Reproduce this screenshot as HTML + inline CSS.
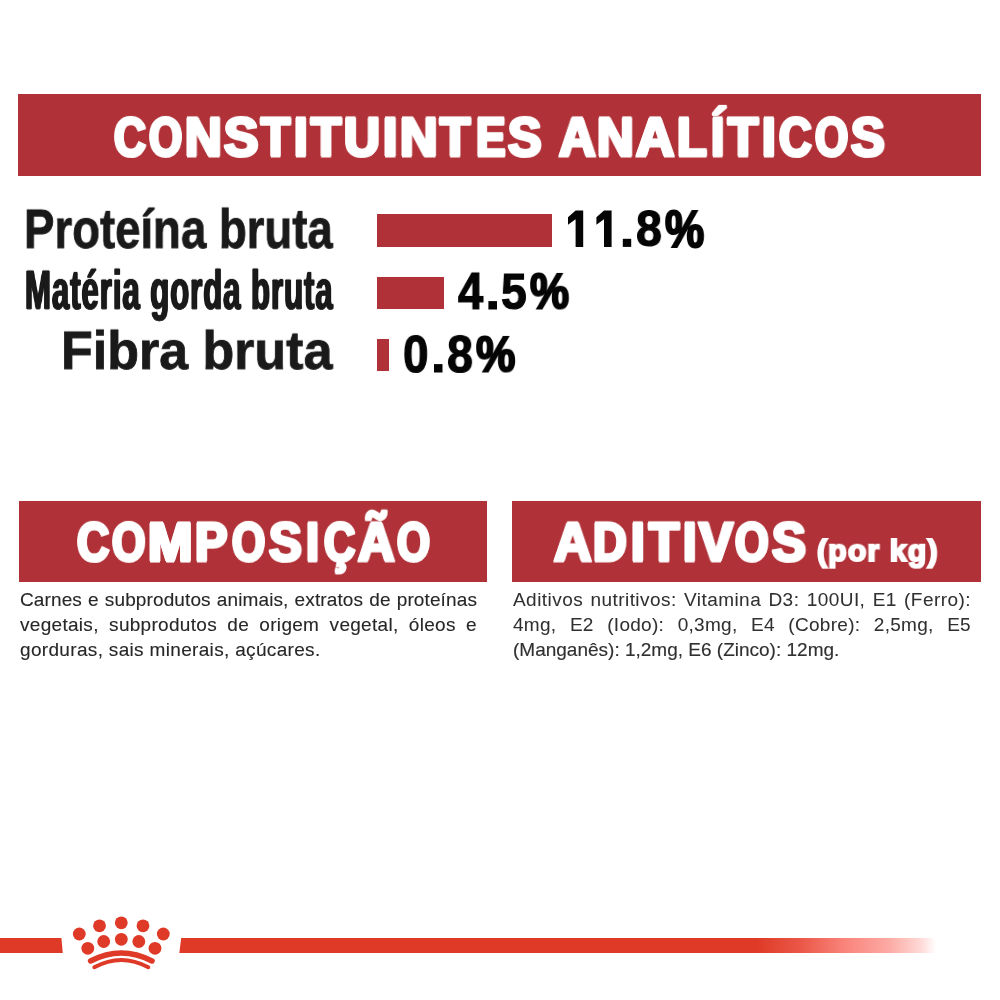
<!DOCTYPE html>
<html lang="pt">
<head>
<meta charset="utf-8">
<title>Constituintes Analíticos</title>
<style>
  html, body { margin: 0; padding: 0; background: #ffffff; }
  body { width: 1000px; height: 1000px; position: relative; overflow: hidden;
         font-family: "Liberation Sans", sans-serif; }
  .abs { position: absolute; }
  .banner { position: absolute; background: #b03238; }
  .bar { position: absolute; background: #b03238; }
  .t { position: absolute; white-space: nowrap; transform-origin: 0 0; line-height: 1; font-weight: bold; will-change: transform; }
  .g { color: #ffffff; -webkit-text-stroke: 3px; font-size: 53px; text-shadow: 1px 0 0 currentColor, -1px 0 0 currentColor, 2px 0 0 currentColor, -2px 0 0 currentColor; }
  .hs { color: #ffffff; -webkit-text-stroke: 2.2px; font-size: 31px; letter-spacing: 1.2px; }
  .lbl { color: #1a1a1a; -webkit-text-stroke: 0.8px; font-size: 52px; }
  .lblc { color: #1a1a1a; -webkit-text-stroke: 0.8px; font-size: 52px; letter-spacing: 1.5px;
          text-shadow: 0.7px 0 0 currentColor, -0.7px 0 0 currentColor, 1.3px 0 0 currentColor, -1.3px 0 0 currentColor; }
  .num { color: #050505; -webkit-text-stroke: 1.2px; font-size: 50px; }
  .pct { color: #050505; -webkit-text-stroke: 2.2px; font-size: 50px; }
  .pl { position: absolute; white-space: nowrap; font-size: 19px; line-height: 25px; height: 25px; color: #1f1f1f; overflow: visible; will-change: transform; -webkit-text-stroke: 0.12px; }
  .pj { text-align: justify; text-align-last: justify; white-space: normal; }
</style>
</head>
<body>

<!-- Top banner -->
<div class="banner" style="left:18px; top:94px; width:963.4px; height:81.5px;"></div>
<div role="heading" aria-label="CONSTITUINTES ANALÍTICOS">
<div class="t g" id="a0" style="left:113.65px; top:108.65px; transform:scale(0.832,1.035);">C</div>
<div class="t g" id="a1" style="left:148.51px; top:108.65px; transform:scale(0.8033,1.035);">O</div>
<div class="t g" id="a2" style="left:184.57px; top:108.65px; transform:scale(0.9558,1.035);">N</div>
<div class="t g" id="a3" style="left:223.57px; top:108.65px; transform:scale(0.9687,1.035);">S</div>
<div class="t g" id="a4" style="left:260.57px; top:108.65px; transform:scale(0.8971,1.035);">T</div>
<div class="t g" id="a5" style="left:293.55px; top:108.65px; transform:scale(0.9138,1.035);">I</div>
<div class="t g" id="a6" style="left:310.72px; top:108.65px; transform:scale(0.9291,1.035);">T</div>
<div class="t g" id="a7" style="left:343.53px; top:108.65px; transform:scale(0.9362,1.035);">U</div>
<div class="t g" id="a8" style="left:382.51px; top:108.65px; transform:scale(0.9671,1.035);">I</div>
<div class="t g" id="a9" style="left:399.63px; top:108.65px; transform:scale(0.9781,1.035);">N</div>
<div class="t g" id="a10" style="left:439.52px; top:108.65px; transform:scale(0.9291,1.035);">T</div>
<div class="t g" id="a11" style="left:475.68px; top:108.65px; transform:scale(0.8341,1.035);">E</div>
<div class="t g" id="a12" style="left:507.61px; top:108.65px; transform:scale(0.9467,1.035);">S</div>
<div class="t g" id="b0" style="left:558.64px; top:108.65px; transform:scale(0.956,1.035);">A</div>
<div class="t g" id="b1" style="left:596.67px; top:108.65px; transform:scale(0.9558,1.035);">N</div>
<div class="t g" id="b2" style="left:635.58px; top:108.65px; transform:scale(0.9967,1.035);">A</div>
<div class="t g" id="b3" style="left:676.56px; top:108.65px; transform:scale(0.917,1.035);">L</div>
<div class="t g" id="b4" style="left:710.63px; top:108.65px; transform:scale(0.8999,1.035);">Í</div>
<div class="t g" id="b5" style="left:727.72px; top:108.65px; transform:scale(0.9291,1.035);">T</div>
<div class="t g" id="b6" style="left:761.72px; top:108.65px; transform:scale(0.9228,1.035);">I</div>
<div class="t g" id="b7" style="left:778.6px; top:108.65px; transform:scale(0.853,1.035);">C</div>
<div class="t g" id="b8" style="left:814.61px; top:108.65px; transform:scale(0.8033,1.035);">O</div>
<div class="t g" id="b9" style="left:850.56px; top:108.65px; transform:scale(0.952,1.035);">S</div>
</div>

<!-- Rows -->
<div class="t lbl" id="l1" style="left:23.69px; top:200.69px; transform:scale(0.876,1.062);">Proteína bruta</div>
<div class="t lblc" id="l2" style="left:24.54px; top:262.57px; transform:scale(0.6003,1.051);">Matéria gorda bruta</div>
<div class="t lbl" id="l3" style="left:60.59px; top:322.6px; transform:scale(0.9994,1.048);">Fibra bruta</div>

<div class="bar" style="left:377px; top:214.4px; width:174.5px; height:32.3px;"></div>
<div class="bar" style="left:377px; top:276.6px; width:66.7px;  height:32px;"></div>
<div class="bar" style="left:377px; top:338.8px; width:11.8px;  height:32px;"></div>

<svg class="abs" style="left:0; top:0;" width="1000" height="400" viewBox="0 0 1000 400" aria-hidden="true"><g fill="#050505"><polygon points="575.6,210.4 583.2,210.4 583.2,246.9 575.6,246.9 575.6,219.2 568.0,224.8 568.0,217.2"/><polygon points="604.0,210.4 611.6,210.4 611.6,246.9 604.0,246.9 604.0,219.2 596.4,224.8 596.4,217.2"/><rect x="622.8" y="238.8" width="8.4" height="8.1"/><rect x="488.4" y="301.1" width="8.6" height="8.4"/><rect x="434.0" y="364.1" width="8.5" height="8.4"/></g></svg>
<span class="abs" style="left:568px; top:204px; font-size:46px; line-height:1; color:transparent;">11.8%</span>
<span class="abs" style="left:458px; top:267px; font-size:46px; line-height:1; color:transparent;">4.5%</span>
<span class="abs" style="left:405px; top:330px; font-size:46px; line-height:1; color:transparent;">0.8%</span>
<div class="t num" id="n1c" style="left:635.69px; top:203.73px; transform:scale(0.9309,1.0086);">8</div>
<div class="t pct" id="n1d" style="left:664.55px; top:203.52px; transform:scale(0.8801,1.0174);">%</div>
<div class="t num" id="n2a" style="left:457.66px; top:265.57px; transform:scale(0.9074,1.0296);">4</div>
<div class="t num" id="n2c" style="left:500.58px; top:266.71px; transform:scale(0.9229,1.0098);">5</div>
<div class="t pct" id="n2d" style="left:529.74px; top:266.64px; transform:scale(0.8779,0.9877);">%</div>
<div class="t num" id="n3a" style="left:402.65px; top:327.96px; transform:scale(0.9151,1.0364);">0</div>
<div class="t num" id="n3c" style="left:446.67px; top:328.05px; transform:scale(0.9326,1.0341);">8</div>
<div class="t pct" id="n3d" style="left:475.69px; top:329.72px; transform:scale(0.8851,0.9873);">%</div>

<!-- Lower banners -->
<div class="banner" style="left:18.5px; top:501px; width:468.7px; height:81.2px;"></div>
<div class="banner" style="left:512.4px; top:501px; width:468.9px; height:81.2px;"></div>
<div role="heading" aria-label="COMPOSIÇÃO">
<div class="t g" id="c0" style="left:76.6px; top:513.68px; transform:scale(0.844,1.0429);">C</div>
<div class="t g" id="c1" style="left:111.7px; top:513.68px; transform:scale(0.81,1.0429);">O</div>
<div class="t g" id="c2" style="left:147.6px; top:513.61px; transform:scale(1.0059,1.0425);">M</div>
<div class="t g" id="c3" style="left:194.62px; top:513.68px; transform:scale(0.9146,1.0429);">P</div>
<div class="t g" id="c4" style="left:231.5px; top:513.68px; transform:scale(0.804,1.0429);">O</div>
<div class="t g" id="c5" style="left:268.6px; top:513.68px; transform:scale(0.9244,1.0429);">S</div>
<div class="t g" id="c6" style="left:305.69px; top:513.68px; transform:scale(0.879,1.0429);">I</div>
<div class="t g" id="c7" style="left:323.51px; top:513.68px; transform:scale(0.818,1.0429);">Ç</div>
<div class="t g" id="c8" style="left:357.63px; top:513.68px; transform:scale(0.9542,1.0429);">Ã</div>
<div class="t g" id="c9" style="left:396.52px; top:513.68px; transform:scale(0.7978,1.0429);">O</div>
</div>
<div role="heading" aria-label="ADITIVOS (por kg)">
<div class="t g" id="d0" style="left:553.52px; top:513.62px; transform:scale(0.9765,1.0499);">A</div>
<div class="t g" id="d1" style="left:592.63px; top:513.62px; transform:scale(0.8797,1.0499);">D</div>
<div class="t g" id="d2" style="left:630.73px; top:513.62px; transform:scale(0.9218,1.0499);">I</div>
<div class="t g" id="d3" style="left:648.73px; top:513.62px; transform:scale(0.9288,1.0499);">T</div>
<div class="t g" id="d4" style="left:682.51px; top:513.62px; transform:scale(0.9041,1.0499);">I</div>
<div class="t g" id="d5" style="left:698.5px; top:513.62px; transform:scale(0.9611,1.0499);">V</div>
<div class="t g" id="d6" style="left:734.55px; top:513.62px; transform:scale(0.8156,1.0499);">O</div>
<div class="t g" id="d7" style="left:771.52px; top:513.62px; transform:scale(0.9555,1.0499);">S</div>
<div class="t hs" id="h3b" style="left:816.65px; top:535.6px; transform:scale(0.9734,0.9601);">(por kg)</div>
</div>

<div class="pl pj" id="p1a" style="left:19.5px; top:587.0px; width:457.0px; color:#272727; letter-spacing:0.12px;">Carnes e subprodutos animais, extratos de proteínas</div>
<div class="pl pj" id="p1b" style="left:19.5px; top:612.0px; width:457.0px; color:#272727; letter-spacing:0.3px;">vegetais, subprodutos de origem vegetal, óleos e</div>
<div class="pl" id="p1c" style="left:19.5px; top:636.8px; color:#272727; letter-spacing:0.33px;">gorduras, sais minerais, açúcares.</div>
<div class="pl pj" id="p2a" style="left:513.0px; top:587.0px; width:458.0px; color:#303030; letter-spacing:0.45px; -webkit-text-stroke-width:0.05px;">Aditivos nutritivos: Vitamina D3: 100UI, E1 (Ferro):</div>
<div class="pl pj" id="p2b" style="left:513.0px; top:612.0px; width:458.0px; color:#303030; letter-spacing:0.3px; -webkit-text-stroke-width:0.05px;">4mg, E2 (Iodo): 0,3mg, E4 (Cobre): 2,5mg, E5</div>
<div class="pl" id="p2c" style="left:513.0px; top:637.0px; color:#303030; -webkit-text-stroke-width:0.15px;">(Manganês): 1,2mg, E6 (Zinco): 12mg.</div>

<!-- Footer line + crown -->
<div class="abs" style="left:0; top:938px; width:63px; height:15.3px; background:#de3a27; clip-path: polygon(0 0, 61.4px 0, 62.8px 100%, 0 100%);"></div>
<div class="abs" style="left:179px; top:938px; width:760px; height:15.3px; clip-path: polygon(2.2px 0, 100% 0, 100% 100%, 0.3px 100%);
     background: linear-gradient(to right, #de3a27 0px, #de3a27 577px, #ea5646 620px, #f9837a 665px, #fcaaa4 710px, #fedad7 742px, #ffffff 757px);"></div>

<svg class="abs" style="left:50px; top:910px;" width="150" height="70" viewBox="50 910 150 70">
  <g fill="#de3a27">
    <circle cx="79.3" cy="934" r="6.4"/>
    <circle cx="99.5" cy="925.8" r="6.4"/>
    <circle cx="121.3" cy="922.8" r="6.4"/>
    <circle cx="143" cy="925.8" r="6.4"/>
    <circle cx="163.3" cy="934" r="6.4"/>
    <circle cx="87.8" cy="948.3" r="6.4"/>
    <circle cx="103.7" cy="941.5" r="6.4"/>
    <circle cx="121.3" cy="939.3" r="6.4"/>
    <circle cx="138.8" cy="941.5" r="6.4"/>
    <circle cx="155" cy="948.3" r="6.4"/>
  </g>
  <path d="M90.6 961 Q121.3 945 152 961" fill="none" stroke="#de3a27" stroke-width="5.5" stroke-linecap="round"/>
  <path d="M94.3 967.3 Q121.3 952.6 148.3 967.3" fill="none" stroke="#de3a27" stroke-width="3.9" stroke-linecap="round"/>
</svg>

</body>
</html>
